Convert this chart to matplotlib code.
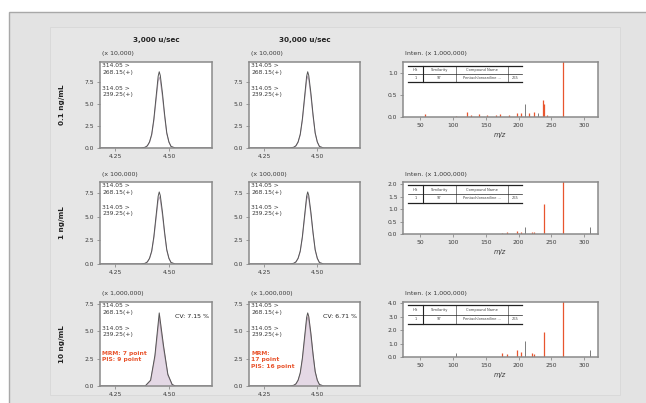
import matplotlib
matplotlib.use("Agg")
import matplotlib.pyplot as plt
from matplotlib.patches import Rectangle
from matplotlib.lines import Line2D

W, H = 646, 403

# ---------------- data ----------------
col_titles = ["3,000 u/sec", "30,000 u/sec"]
row_titles = ["0.1 ng/mL", "1 ng/mL", "10 ng/mL"]
chrom_scales = ["(x 10,000)", "(x 100,000)", "(x 1,000,000)"]
chrom_yticks = [0.0, 2.5, 5.0, 7.5]
chrom_ylims = [9.7, 8.65, 7.7]
chrom_xticks = [4.25, 4.50]
transition_1 = "314.05 >\n268.15(+)"
transition_2 = "314.05 >\n239.25(+)"

peak_time = [4.18, 4.37, 4.39, 4.40, 4.41, 4.42, 4.43, 4.44, 4.45, 4.455,
             4.46, 4.47, 4.48, 4.49, 4.50, 4.51, 4.53, 4.70]
peak_shape = [0.0, 0.0, 0.01, 0.03, 0.08, 0.18, 0.38, 0.66, 0.94, 1.0,
              0.95, 0.72, 0.44, 0.20, 0.08, 0.02, 0.0, 0.0]
# coarse peak (few data points)
peak_time_coarse = [4.18, 4.39, 4.415, 4.435, 4.455, 4.475, 4.495, 4.515, 4.53, 4.70]
peak_shape_coarse = [0.0, 0.0, 0.08, 0.42, 1.0, 0.55, 0.16, 0.02, 0.0, 0.0]

# peak apex heights [row][col] for quantifier / qualifier
apex_quant = [[8.6, 8.6], [7.6, 7.6], [6.7, 6.7]]
apex_qual = [[8.0, 8.1], [7.1, 7.2], [6.2, 6.3]]

cv_labels = ["CV: 7.15 %", "CV: 6.71 %"]
point_labels = ["MRM: 7 point\nPIS: 9 point", "MRM:\n17 point\nPIS: 16 point"]

spec_scale = "Inten. (x 1,000,000)"
spec_xticks = [50, 100, 150, 200, 250, 300]
spec_yticks = [[0.0, 0.5, 1.0], [0.0, 0.5, 1.0, 1.5, 2.0], [0.0, 1.0, 2.0, 3.0, 4.0]]
spec_ylims = [1.24, 2.08, 4.1]

# red (library-matched) lines
spec_mz_red = [
    [58, 105, 121, 127, 140, 152, 165, 172, 185, 198, 204, 216, 224, 237, 239, 244, 268],
    [175, 183, 198, 204, 220, 224, 239, 268],
    [175, 183, 198, 204, 220, 224, 239, 268],
]
spec_int_red = [
    [0.06, 0.03, 0.12, 0.05, 0.07, 0.04, 0.05, 0.06, 0.04, 0.08, 0.10, 0.10, 0.12, 0.38, 0.30, 0.05, 1.40],
    [0.05, 0.08, 0.12, 0.10, 0.10, 0.07, 1.22, 2.30],
    [0.30, 0.25, 0.55, 0.35, 0.30, 0.25, 1.90, 4.50],
]
# grey (unmatched) lines
spec_mz_grey = [[210, 230], [210, 309], [105, 210, 309]]
spec_int_grey = [[0.29, 0.08], [0.30, 0.30], [0.30, 1.20, 0.50]]

hit_header = ["Hit", "Similarity", "Compound Name", ""]
hit_row = ["1", "97", "Pentachloroaniline ...", "265"]

# ---------------- layout helpers ----------------
def fr(x0, y0, x1, y1):
    return [x0 / W, 1 - y1 / H, (x1 - x0) / W, (y1 - y0) / H]

def fx(x, y):
    return x / W, 1 - y / H

fig = plt.figure(figsize=(W / 100, H / 100), dpi=100, facecolor="white")
fig.patches.append(Rectangle((9 / W, -0.1), 1.2, 1 - 12 / H + 0.1, transform=fig.transFigure,
                             facecolor="#e3e3e3", edgecolor="#a8a8a8", lw=1.0, zorder=-10))
fig.patches.append(Rectangle((50 / W, 8 / H), (620 - 50) / W, (403 - 27 - 8) / H, transform=fig.transFigure,
                             facecolor="#e6e6e6", edgecolor="#d8d8d8", lw=0.6, zorder=-9))

chrom_x = [(100, 212), (249, 360)]
rows_y = [(62, 148), (182, 264), (302, 386)]
spec_x = (403, 598)
spec_rows_y = [(62, 117), (182, 234), (302, 357)]

spine_col = "#8a8a8a"
tick_fs = 4.3
txt_col = "#3a3a3a"
red = "#e8552e"

def style(ax):
    for s in ax.spines.values():
        s.set_color(spine_col)
        s.set_linewidth(1.1)
    ax.tick_params(labelsize=tick_fs, colors=txt_col, length=2.5, width=0.6, pad=1.5)
    ax.tick_params(axis="both", color=spine_col)

# column titles
for c, t in enumerate(col_titles):
    cx = (chrom_x[c][0] + chrom_x[c][1]) / 2
    fig.text(*fx(cx, 40), t, ha="center", va="center", fontsize=5.2, fontweight="bold", color="#222222")

for r in range(3):
    y0, y1 = rows_y[r]
    fig.text(*fx(62, (y0 + y1) / 2), row_titles[r], ha="center", va="center", rotation=90,
             fontsize=5.2, fontweight="bold", color="#222222")
    for c in range(2):
        x0, x1 = chrom_x[c]
        ax = fig.add_axes(fr(x0, y0, x1, y1))
        style(ax)
        ax.set_xlim(4.18, 4.70)
        ax.set_ylim(0, chrom_ylims[r])
        ax.set_xticks(chrom_xticks)
        ax.set_xticklabels(["4.25", "4.50"])
        ax.set_yticks(chrom_yticks)
        ax.set_yticklabels(["0.0", "2.5", "5.0", "7.5"])
        if r == 2:
            tq = peak_time_coarse if c == 0 else peak_time
            sq = peak_shape_coarse if c == 0 else peak_shape
        else:
            tq, sq = peak_time, peak_shape
        yq = [v * apex_quant[r][c] for v in sq]
        yl = [v * apex_qual[r][c] for v in sq]
        if r == 2:
            ax.fill_between(tq, 0, yq, color="#f5cdd3", lw=0)
            ax.fill_between(tq, 0, yl, color="#d6e2f4", lw=0, alpha=0.55)
        ax.plot(tq, yl, color="#b8a8b8", lw=0.7)
        ax.plot(tq, yq, color="#555555", lw=0.7)
        ax.text(0.02, 0.985, transition_1, transform=ax.transAxes, ha="left", va="top",
                fontsize=4.3, color=txt_col, linespacing=1.35)
        ax.text(0.02, 0.72, transition_2, transform=ax.transAxes, ha="left", va="top",
                fontsize=4.3, color=txt_col, linespacing=1.35)
        if r == 2:
            ax.text(0.02, 0.42, point_labels[c], transform=ax.transAxes, ha="left", va="top",
                    fontsize=4.3, color=red, fontweight="bold", linespacing=1.35)
            ax.text(0.97, 0.83, cv_labels[c], transform=ax.transAxes, ha="right", va="center",
                    fontsize=4.5, color="#222222")
        fig.text(*fx(x0 + 2, y0 - 8), chrom_scales[r], ha="left", va="center", fontsize=4.5, color=txt_col)

    # spectrum
    sy0, sy1 = spec_rows_y[r]
    ax = fig.add_axes(fr(spec_x[0], sy0, spec_x[1], sy1))
    style(ax)
    ax.set_xlim(24, 321)
    ax.set_ylim(0, spec_ylims[r])
    ax.set_xticks(spec_xticks)
    ax.set_yticks(spec_yticks[r])
    ax.set_yticklabels([f"{v:.1f}" for v in spec_yticks[r]])
    ax.vlines(spec_mz_grey[r], 0, spec_int_grey[r], color="#666666", lw=0.6)
    ax.vlines(spec_mz_red[r], 0, spec_int_red[r], color=red, lw=0.9)
    # hit table
    tx0, tx1 = 0.026, 0.61
    ty = [0.92, 0.78, 0.64] if r == 0 else [0.94, 0.77, 0.60]
    ax.add_line(Line2D([tx0, tx1], [ty[0], ty[0]], transform=ax.transAxes, color="#222222", lw=0.9))
    ax.add_line(Line2D([tx0, tx1], [ty[1], ty[1]], transform=ax.transAxes, color="#222222", lw=0.5))
    ax.add_line(Line2D([tx0, tx1], [ty[2], ty[2]], transform=ax.transAxes, color="#222222", lw=0.9))
    cols = [tx0, 0.10, 0.27, 0.54, tx1]
    for k, xc in enumerate(cols[1:-1]):
        ax.add_line(Line2D([xc, xc], [ty[2], ty[0]], transform=ax.transAxes,
                           color="#222222", lw=0.8 if k == 0 else 0.4))
    for k in range(4):
        cxm = (cols[k] + cols[k + 1]) / 2
        ax.text(cxm, (ty[0] + ty[1]) / 2, hit_header[k], transform=ax.transAxes,
                ha="center", va="center", fontsize=2.6, color="#444444")
        ax.text(cxm, (ty[1] + ty[2]) / 2, hit_row[k], transform=ax.transAxes,
                ha="center", va="center", fontsize=2.6, color="#444444")
    fig.text(*fx(spec_x[0] + 2, sy0 - 8), spec_scale, ha="left", va="center", fontsize=4.5, color=txt_col)
    fig.text(*fx(500, sy1 + 18), "m/z", ha="center", va="center", fontsize=4.8,
             style="italic", color=txt_col)

fig.savefig("out.png", dpi=100, facecolor=fig.get_facecolor())
